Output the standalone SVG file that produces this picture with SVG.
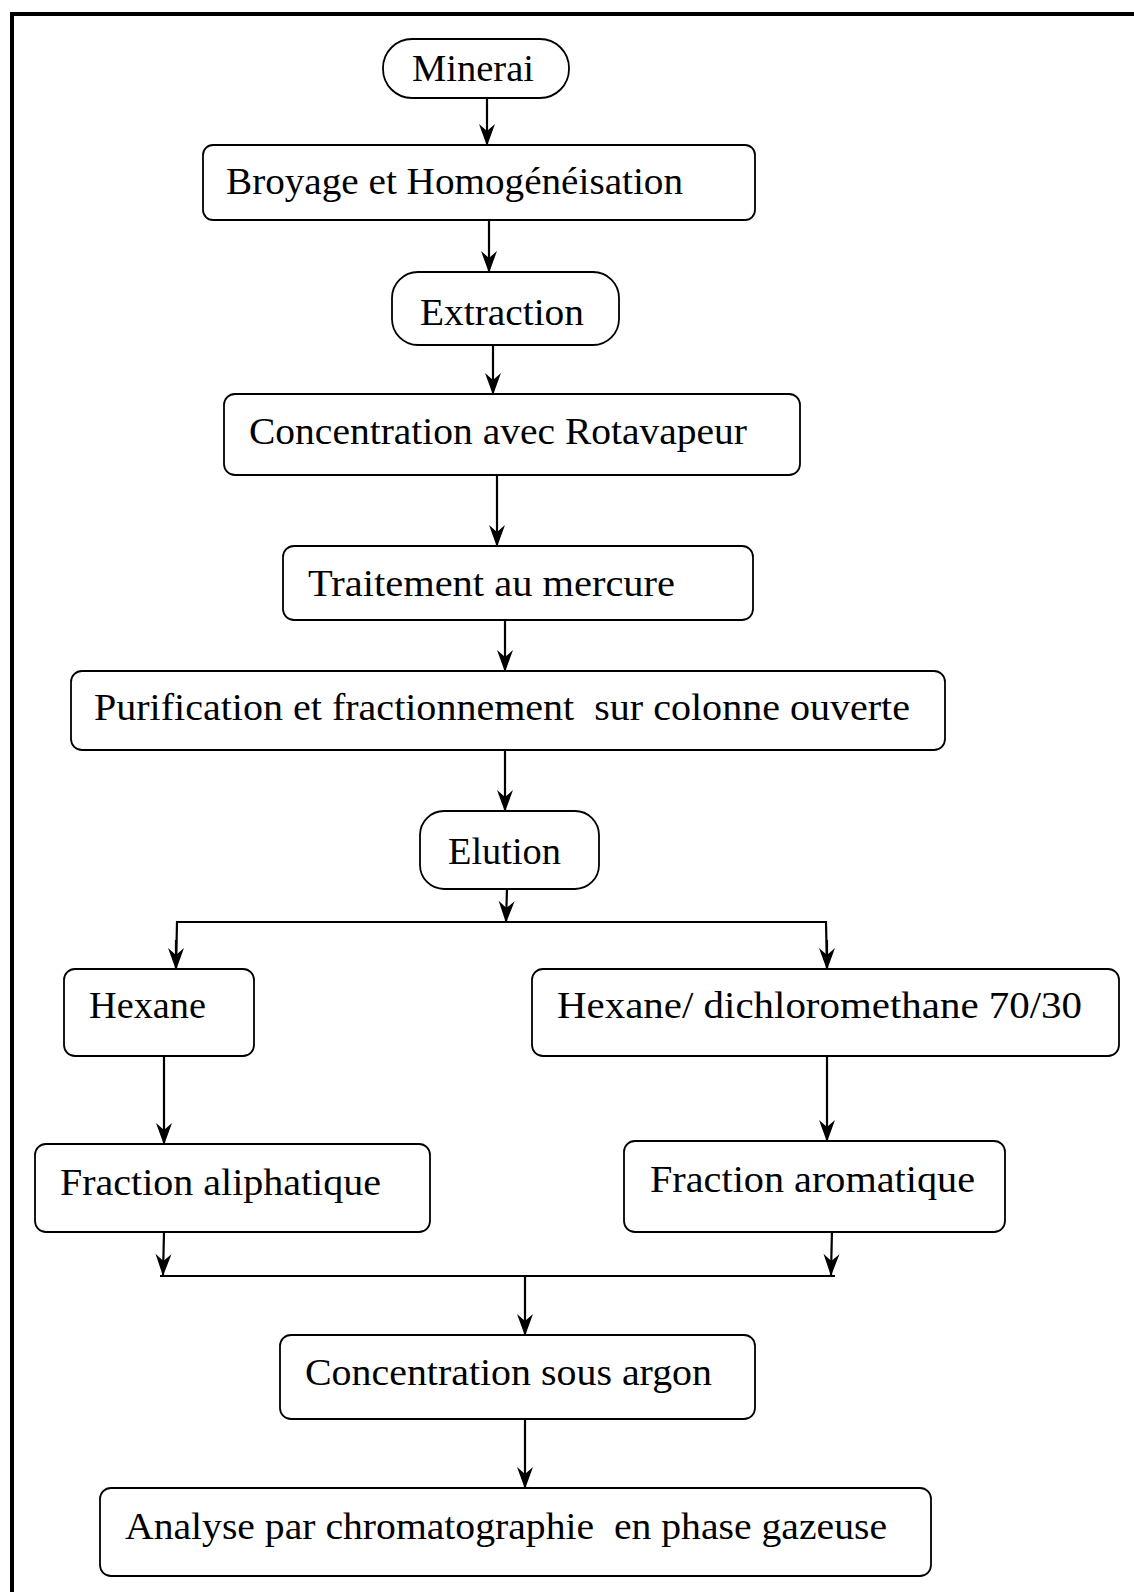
<svg xmlns="http://www.w3.org/2000/svg" width="1134" height="1592" viewBox="0 0 1134 1592">
<style>
.box{fill:#fff;stroke:#000;stroke-width:1.8}
.t{font-family:"Liberation Serif","Times New Roman",serif;font-size:37px;fill:#000}
.c{fill:none;stroke:#000;stroke-width:2.2}
.frame{fill:none;stroke:#000;stroke-width:4}
</style>
<defs>
<marker id="ah" viewBox="0 0 22 16" refX="21" refY="8" markerWidth="22" markerHeight="16" markerUnits="userSpaceOnUse" orient="auto" overflow="visible">
<path d="M0,0 L22,8 L0,16 L7,8 z" fill="#000"/>
</marker>
</defs>
<rect width="1134" height="1592" fill="#fff"/>
<path class="frame" d="M1134,14 L12,14 L12,1592"/>
<g id="connectors">
<line class="c" x1="487" y1="98" x2="487" y2="145" marker-end="url(#ah)"/>
<line class="c" x1="489" y1="220" x2="489" y2="272" marker-end="url(#ah)"/>
<line class="c" x1="493" y1="345" x2="493" y2="394" marker-end="url(#ah)"/>
<line class="c" x1="497" y1="475" x2="497" y2="546" marker-end="url(#ah)"/>
<line class="c" x1="505" y1="616" x2="505" y2="671" marker-end="url(#ah)"/>
<line class="c" x1="505" y1="750" x2="505" y2="811" marker-end="url(#ah)"/>
<line class="c" x1="507" y1="889" x2="506" y2="922" marker-end="url(#ah)"/>
<polyline class="c" points="176,969 177,922 826,922 827,969"/>
<line class="c" x1="176" y1="940" x2="176" y2="969" marker-end="url(#ah)"/>
<line class="c" x1="827" y1="940" x2="827" y2="969" marker-end="url(#ah)"/>
<line class="c" x1="164" y1="1056" x2="164" y2="1144" marker-end="url(#ah)"/>
<line class="c" x1="827" y1="1056" x2="827" y2="1141" marker-end="url(#ah)"/>
<line class="c" x1="164" y1="1232" x2="163" y2="1275" marker-end="url(#ah)"/>
<line class="c" x1="832" y1="1229" x2="831" y2="1275" marker-end="url(#ah)"/>
<line class="c" x1="160" y1="1276" x2="835" y2="1276" stroke-width="2.8"/>
<line class="c" x1="525" y1="1276" x2="525" y2="1335" marker-end="url(#ah)"/>
<line class="c" x1="525" y1="1419" x2="525" y2="1488" marker-end="url(#ah)"/>
</g>
<g id="n-minerai"><rect class="box" x="383" y="39" width="186" height="59" rx="29"/><text class="t" x="412" y="81" textLength="122" lengthAdjust="spacingAndGlyphs">Minerai</text></g>
<g id="n-broyage"><rect class="box" x="203" y="145" width="552" height="75" rx="10"/><text class="t" x="226" y="194" textLength="457" lengthAdjust="spacingAndGlyphs">Broyage et Homogénéisation</text></g>
<g id="n-extraction"><rect class="box" x="392" y="272" width="227" height="73" rx="26"/><text class="t" x="420" y="325" textLength="164" lengthAdjust="spacingAndGlyphs">Extraction</text></g>
<g id="n-rotavapeur"><rect class="box" x="224" y="394" width="576" height="81" rx="11"/><text class="t" x="249" y="444" textLength="498" lengthAdjust="spacingAndGlyphs">Concentration avec Rotavapeur</text></g>
<g id="n-mercure"><rect class="box" x="283" y="546" width="470" height="74" rx="11"/><text class="t" x="308" y="596" textLength="367" lengthAdjust="spacingAndGlyphs">Traitement au mercure</text></g>
<g id="n-purification"><rect class="box" x="71" y="671" width="874" height="79" rx="11"/><text class="t" x="94" y="720" textLength="816" lengthAdjust="spacingAndGlyphs" xml:space="preserve">Purification et fractionnement  sur colonne ouverte</text></g>
<g id="n-elution"><rect class="box" x="420" y="811" width="179" height="78" rx="24"/><text class="t" x="448" y="864" textLength="113" lengthAdjust="spacingAndGlyphs">Elution</text></g>
<g id="n-hexane"><rect class="box" x="64" y="969" width="190" height="87" rx="11"/><text class="t" x="89" y="1018" textLength="117" lengthAdjust="spacingAndGlyphs">Hexane</text></g>
<g id="n-hexdcm"><rect class="box" x="532" y="969" width="587" height="87" rx="11"/><text class="t" x="557" y="1018" textLength="525" lengthAdjust="spacingAndGlyphs">Hexane/ dichloromethane 70/30</text></g>
<g id="n-aliph"><rect class="box" x="35" y="1144" width="395" height="88" rx="11"/><text class="t" x="60" y="1195" textLength="321" lengthAdjust="spacingAndGlyphs">Fraction aliphatique</text></g>
<g id="n-arom"><rect class="box" x="624" y="1141" width="381" height="91" rx="11"/><text class="t" x="650" y="1192" textLength="325" lengthAdjust="spacingAndGlyphs">Fraction aromatique</text></g>
<g id="n-argon"><rect class="box" x="280" y="1335" width="475" height="84" rx="11"/><text class="t" x="305" y="1385" textLength="407" lengthAdjust="spacingAndGlyphs">Concentration sous argon</text></g>
<g id="n-analyse"><rect class="box" x="100" y="1488" width="831" height="88" rx="11"/><text class="t" x="125" y="1539" textLength="762" lengthAdjust="spacingAndGlyphs" xml:space="preserve">Analyse par chromatographie  en phase gazeuse</text></g>
</svg>
